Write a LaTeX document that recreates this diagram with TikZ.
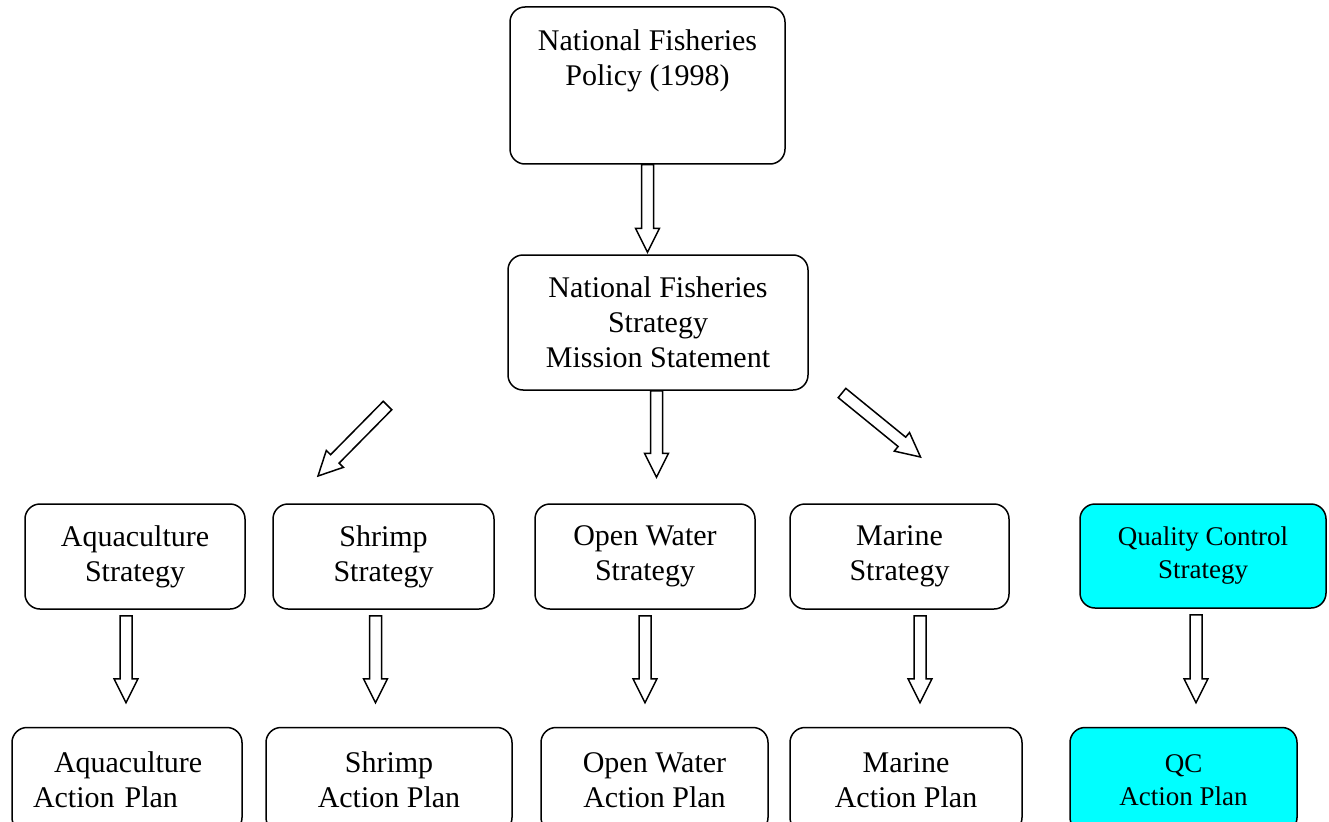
\documentclass[tikz,border=0pt]{standalone}
\usepackage{fontspec}
\setmainfont{Liberation Serif}
\usetikzlibrary{calc}
\definecolor{qccyan}{RGB}{0,255,255}
\tikzset{%
            base/.style = {rectangle, rounded corners=15pt, draw=black,
                           line width=1.5pt, minimum height=105pt,
                           text centered, align=center,
                           font=\fontsize{30}{35}\selectfont},
  box0/.style = {base, fill=white},
  box1/.style = {base, fill=qccyan, font=\fontsize{27}{33}\selectfont},
  fatarrow/.style = {draw=black, line width=1.5pt, fill=white},
}
\newcommand{\blockarrow}[2]{%
  \path ($(#2)!24pt!(#1)$) coordinate (ahead);
  \draw[fatarrow] ($(#1)!6pt!90:(#2)$) -- ($(ahead)!6pt!90:(#2)$)
    -- ($(ahead)!12pt!90:(#2)$) -- (#2) -- ($(ahead)!12pt!-90:(#2)$)
    -- ($(ahead)!6pt!-90:(#2)$) -- ($(#1)!6pt!-90:(#2)$) -- cycle;
}

\begin{document}
\begin{tikzpicture}[x=1pt, y=-1pt]
  \useasboundingbox (0,0) rectangle (1329,821);

  \node (policy)  [box0, minimum width=275pt, inner ysep=10pt,
                   text height=69pt, text depth=68pt] at (647.5,85.5)
                  {National Fisheries\\Policy (1998)};
  \node (mission) [box0, minimum width=300pt, minimum height=135pt] at (658,322.5)
                  {National Fisheries\\Strategy\\Mission Statement};

  \node (aquaS)   [box0, minimum width=220pt] at (135,556.5)   {Aquaculture\\Strategy};
  \node (shrimpS) [box0, minimum width=221pt] at (383.5,556.5) {Shrimp\\Strategy};
  \node (openS)   [box0, minimum width=220pt] at (645,556.5)   {Open Water\\Strategy};
  \node (marineS) [box0, minimum width=219pt] at (899.5,556.5) {Marine\\Strategy};
  \node (qcS)     [box1, minimum width=246pt, minimum height=104pt] at (1203,556)
                  {Quality Control\\Strategy};

  \node (aquaP)   [box0, text width=188pt, inner xsep=21pt, align=left] at (127,780)
                  {\hspace*{21pt}Aquaculture\\Action Plan};
  \node (shrimpP) [box0, minimum width=246pt] at (389,780)   {Shrimp\\Action Plan};
  \node (openP)   [box0, minimum width=227pt] at (654.5,780) {Open Water\\Action Plan};
  \node (marineP) [box0, minimum width=232pt] at (906,780)   {Marine\\Action Plan};
  \node (qcP)     [box1, minimum width=227pt] at (1183.5,780) {QC\\Action Plan};

  \coordinate (leftTail)  at (387.5,405.5);
  \coordinate (leftTip)   at (318,476);
  \coordinate (rightTail) at (842,393);
  \coordinate (rightTip)  at (920.5,457);

  \path (policy.south |- mission.north) ++(0,-2) coordinate (policyTip);
  \blockarrow{policy.south}{policyTip}
  \path ([xshift=-1.5pt]mission.south) coordinate (midTail);
  \path (midTail |- openS.north) ++(0,-26) coordinate (midTip);
  \blockarrow{midTail}{midTip}
  \blockarrow{leftTail}{leftTip}
  \blockarrow{rightTail}{rightTip}

  \foreach \s/\p/\dx in {aquaS/aquaP/-9, shrimpS/shrimpP/-8, openS/openP/0,
                         marineS/marineP/20.5, qcS/qcP/-7} {
    \path ([xshift=\dx pt]\s.south) ++(0,6) coordinate (atail);
    \path (atail |- \p.north) ++(0,-24) coordinate (atip);
    \blockarrow{atail}{atip}
  }
\end{tikzpicture}
\end{document}
